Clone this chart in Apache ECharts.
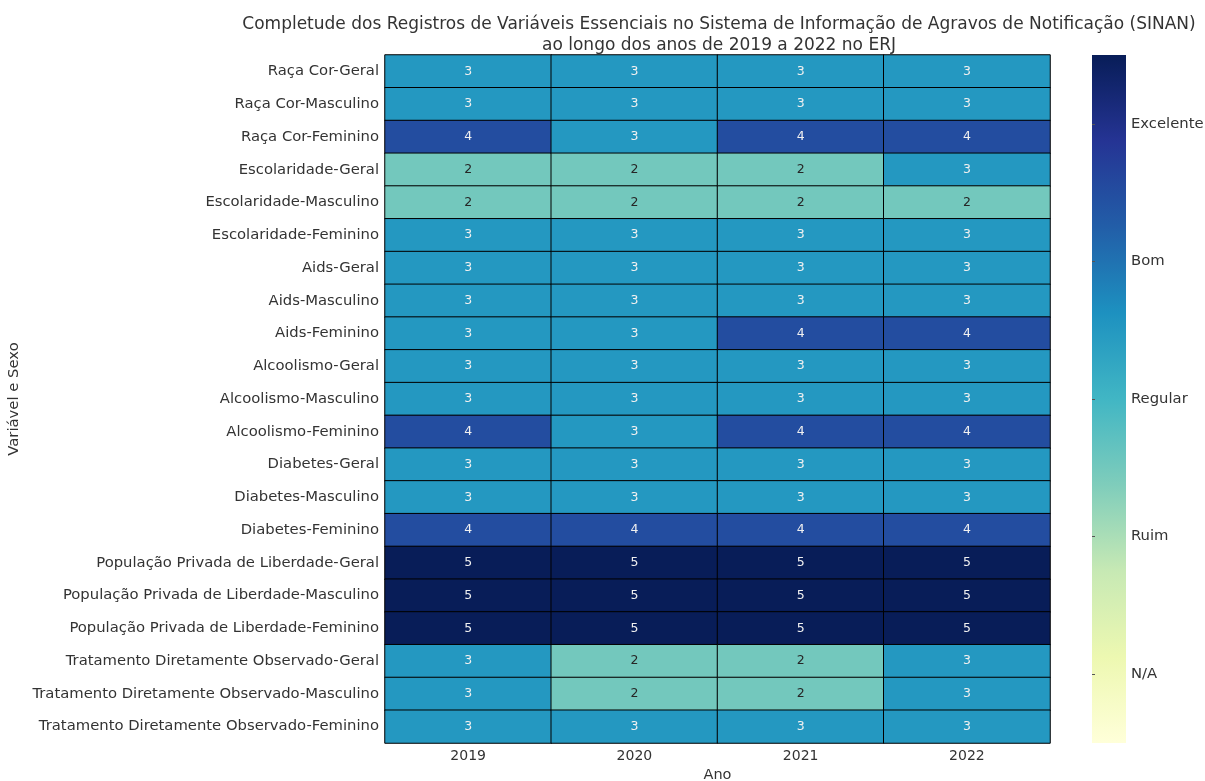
<!DOCTYPE html>
<html lang="pt">
<head>
    <meta charset="UTF-8">
    <title>Completude SINAN</title>
    <script src="https://cdn.jsdelivr.net/npm/echarts@6/dist/echarts.min.js"></script>
    <style>
        html, body { margin: 0; padding: 0; background: #fff; }
    </style>
</head>
<body>
<div id="main" style="width: 1205px;height:781px;"></div>

<script type="text/javascript">
    // dados
    var anos = ['2019', '2020', '2021', '2022'];
    var variaveis = [
        'Raça Cor-Geral', 'Raça Cor-Masculino', 'Raça Cor-Feminino',
        'Escolaridade-Geral', 'Escolaridade-Masculino', 'Escolaridade-Feminino',
        'Aids-Geral', 'Aids-Masculino', 'Aids-Feminino',
        'Alcoolismo-Geral', 'Alcoolismo-Masculino', 'Alcoolismo-Feminino',
        'Diabetes-Geral', 'Diabetes-Masculino', 'Diabetes-Feminino',
        'População Privada de Liberdade-Geral', 'População Privada de Liberdade-Masculino', 'População Privada de Liberdade-Feminino',
        'Tratamento Diretamente Observado-Geral', 'Tratamento Diretamente Observado-Masculino', 'Tratamento Diretamente Observado-Feminino'
    ];
    var notas2019 = [3, 3, 4, 2, 2, 3, 3, 3, 3, 3, 3, 4, 3, 3, 4, 5, 5, 5, 3, 3, 3];
    var notas2020 = [3, 3, 3, 2, 2, 3, 3, 3, 3, 3, 3, 3, 3, 3, 4, 5, 5, 5, 2, 2, 3];
    var notas2021 = [3, 3, 4, 2, 2, 3, 3, 3, 4, 3, 3, 4, 3, 3, 4, 5, 5, 5, 2, 2, 3];
    var notas2022 = [3, 3, 4, 3, 2, 3, 3, 3, 4, 3, 3, 4, 3, 3, 4, 5, 5, 5, 3, 3, 3];
    var escala = ['N/A', 'Ruim', 'Regular', 'Bom', 'Excelente'];

    // paleta YlGnBu
    var ylgnbu = ['#ffffd9', '#edf8b1', '#c7e9b4', '#7fcdbb', '#41b6c4', '#1d91c0', '#225ea8', '#253494', '#081d58'];

    var porAno = [notas2019, notas2020, notas2021, notas2022];
    var dados = [];
    porAno.forEach(function (col, i) {
        col.forEach(function (v, j) {
            dados.push([i, j, v]);
        });
    });

    var fonte = 'DejaVu Sans';
    var myChart = echarts.init(document.getElementById('main'));
    myChart.setOption({
        animation: false,
        textStyle: { fontFamily: fonte },
        title: {
            text: 'Completude dos Registros de Variáveis Essenciais no Sistema de Informação de Agravos de Notificação (SINAN)\nao longo dos anos de 2019 a 2022 no ERJ',
            left: 714,
            top: 9,
            textAlign: 'center',
            textStyle: { fontFamily: fonte, fontSize: 17, fontWeight: 'normal', color: '#333', lineHeight: 21 }
        },
        grid: [
            { left: 385, right: 155, top: 55, bottom: 38, outerBoundsMode: 'none' },
            { left: 1092, width: 34, top: 55, bottom: 38, outerBoundsMode: 'none' }
        ],
        xAxis: [{
            type: 'category',
            data: anos,
            name: 'Ano',
            nameLocation: 'middle',
            nameGap: 25,
            nameTextStyle: { fontSize: 14.5, color: '#333' },
            axisLine: { show: false },
            axisTick: { length: 4, lineStyle: { color: '#555' } },
            axisLabel: { fontSize: 14, color: '#333', margin: 6 },
            splitArea: { show: false }
        }, {
            gridIndex: 1, type: 'value', show: false
        }],
        yAxis: [{
            type: 'category',
            data: variaveis,
            inverse: true,
            name: 'Variável e Sexo',
            nameLocation: 'middle',
            nameGap: 362,
            nameTextStyle: { fontSize: 14.8, color: '#333' },
            axisLine: { show: false },
            axisTick: { length: 4, lineStyle: { color: '#555' } },
            axisLabel: { fontSize: 14.8, color: '#333', margin: 6 }
        }, {
            gridIndex: 1,
            type: 'category',
            data: escala,
            position: 'right',
            axisLine: { show: false },
            axisTick: { show: true, alignWithLabel: true, length: 3, lineStyle: { color: '#555' } },
            axisLabel: { fontSize: 14.8, color: '#333', margin: 5 }
        }],
        visualMap: {
            show: false,
            min: 0,
            max: 5,
            inRange: { color: ylgnbu }
        },
        graphic: [{
            type: 'rect',
            shape: { x: 1092, y: 55, width: 34, height: 688 },
            style: {
                fill: new echarts.graphic.LinearGradient(0, 1, 0, 0, ylgnbu.map(function (c, i) {
                    return { offset: i / (ylgnbu.length - 1), color: c };
                }))
            },
            z: 0
        }],
        series: [{
            type: 'heatmap',
            data: dados,
            itemStyle: { borderColor: '#000', borderWidth: 1 },
            label: {
                show: true,
                formatter: function (p) {
                    var v = p.value[2];
                    return v <= 2 ? '{e|' + v + '}' : '{c|' + v + '}';
                },
                rich: {
                    e: { color: '#262626', fontSize: 12.5, fontFamily: fonte },
                    c: { color: '#f0f0f0', fontSize: 12.5, fontFamily: fonte }
                }
            }
        }]
    });
</script>
</body>
</html>
